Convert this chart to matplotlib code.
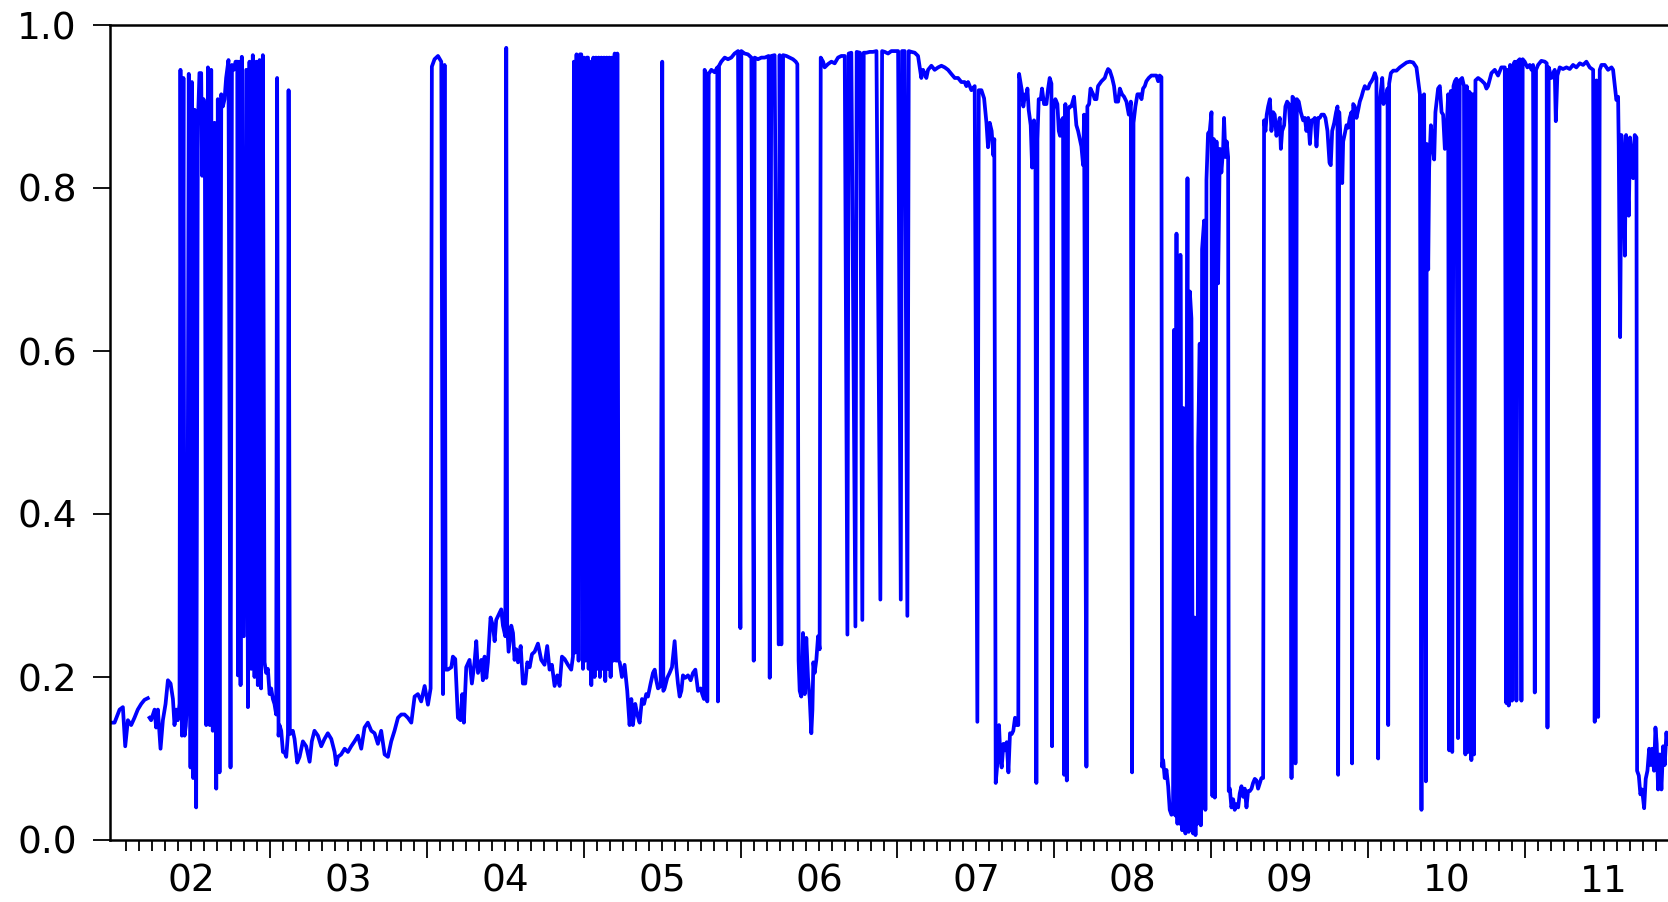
import numpy as np
import matplotlib
matplotlib.use("Agg")
import matplotlib.pyplot as plt

plt.rcParams['font.family'] = ['DejaVu Sans']

# regime probability (x = decimal year)
t_a = [2001.989, 2002.011, 2002.043, 2002.064, 2002.079, 2002.096, 2002.117, 2002.138, 2002.159, 2002.181,
       2002.202, 2002.223, 2002.228, 2002.234, 2002.244, 2002.266, 2002.276, 2002.287, 2002.304, 2002.319,
       2002.336, 2002.351, 2002.368, 2002.383, 2002.393, 2002.404, 2002.414, 2002.425,
       2002.431, 2002.440, 2002.450, 2002.457, 2002.465, 2002.474, 2002.484, 2002.495, 2002.504, 2002.512,
       2002.521, 2002.531, 2002.542, 2002.552, 2002.563, 2002.569, 2002.578, 2002.586, 2002.595, 2002.606,
       2002.618, 2002.627, 2002.637, 2002.648, 2002.659, 2002.669, 2002.680, 2002.691, 2002.701, 2002.712,
       2002.722, 2002.737, 2002.750, 2002.759, 2002.771, 2002.782, 2002.793, 2002.797, 2002.805, 2002.814,
       2002.822, 2002.835, 2002.850, 2002.861, 2002.871, 2002.882, 2002.892, 2002.903, 2002.914, 2002.924,
       2002.935, 2002.945, 2002.956, 2002.967, 2002.977, 2002.988, 2002.999, 2003.009, 2003.020, 2003.030,
       2003.041, 2003.047, 2003.056, 2003.062, 2003.073, 2003.084, 2003.094, 2003.105, 2003.116, 2003.120,
       2003.128, 2003.137, 2003.147, 2003.158, 2003.175, 2003.190, 2003.211, 2003.232, 2003.254, 2003.268,
       2003.285, 2003.307, 2003.328, 2003.349, 2003.370, 2003.392, 2003.413, 2003.424, 2003.434]
p_a = [.144, .144, .160, .163, .115, .147, .141, .150, .160, .167,
       .172, .174, np.nan, .150, .147, .160, .138, .160, .112, .147,
       .167, .196, .192, .173, .141, .160, .147, .167,
       .945, .128, .935, .128, .140, .173, .940, .089, .930, .076,
       .896, .040, .877, .941, .941, .815, .909, .890, .141, .948,
       .141, .945, .134, .880, .063, .909, .083, .915, .900, .909,
       .935, .957, .089, .951, .945, .955, .955, .202, .955, .190,
       .961, .250, .945, .163, .955, .210, .963, .200, .955, .190,
       .957, .186, .963, .218, .205, .210, .179, .186, .173, .167,
       .154, .935, .128, .141, .134, .108, .108, .102, .130, .920,
       .130, .131, .134, .124, .095, .102, .121, .115, .096, .121,
       .134, .128, .115, .124, .131, .124, .108, .092, .102]

t_b = [2003.455, 2003.477, 2003.498, 2003.519, 2003.540, 2003.562, 2003.583, 2003.604, 2003.625, 2003.647,
       2003.668, 2003.689, 2003.710, 2003.732, 2003.753, 2003.774, 2003.795, 2003.817, 2003.838, 2003.859,
       2003.880, 2003.902, 2003.923, 2003.944, 2003.965, 2003.987, 2004.008, 2004.025, 2004.033, 2004.050,
       2004.072, 2004.093, 2004.104, 2004.114, 2004.121, 2004.135, 2004.157, 2004.167, 2004.182, 2004.199,
       2004.216, 2004.227, 2004.237, 2004.252, 2004.273, 2004.288, 2004.305, 2004.316, 2004.327, 2004.348,
       2004.358, 2004.369, 2004.380, 2004.390, 2004.407, 2004.422, 2004.433, 2004.443, 2004.458, 2004.475,
       2004.486, 2004.501, 2004.507, 2004.513, 2004.522, 2004.539, 2004.550, 2004.560, 2004.571, 2004.582,
       2004.599, 2004.613, 2004.628, 2004.641, 2004.656, 2004.671, 2004.688, 2004.709, 2004.730, 2004.751,
       2004.768, 2004.783, 2004.798, 2004.815, 2004.832, 2004.847, 2004.862, 2004.879]
p_b = [.105, .112, .108, .115, .121, .128, .112, .138, .144, .134,
       .131, .118, .134, .105, .102, .121, .134, .150, .154, .154,
       .150, .144, .176, .179, .170, .189, .166, .186, .949, .958,
       .962, .955, .179, .951, .209, .209, .212, .225, .222, .150,
       .147, .179, .144, .212, .221, .192, .218, .244, .205, .221,
       .196, .225, .199, .218, .273, .263, .244, .270, .276, .283,
       .263, .250, .972, .263, .231, .263, .254, .221, .234, .218,
       .238, .192, .192, .218, .212, .228, .231, .241, .221, .215,
       .238, .209, .215, .189, .202, .189, .225, .222]

t_c = [2004.900, 2004.921, 2004.932, 2004.938, 2004.947, 2004.955, 2004.968, 2004.977, 2004.985, 2004.996,
       2005.002, 2005.011, 2005.021, 2005.028, 2005.032, 2005.040, 2005.049, 2005.062, 2005.070, 2005.079,
       2005.087, 2005.096, 2005.104, 2005.113, 2005.121, 2005.130, 2005.138, 2005.147, 2005.155, 2005.164,
       2005.172, 2005.181, 2005.189, 2005.198, 2005.208, 2005.215, 2005.223, 2005.230, 2005.244, 2005.261,
       2005.278, 2005.293, 2005.304, 2005.314, 2005.329, 2005.342, 2005.357, 2005.372, 2005.385, 2005.399,
       2005.410, 2005.427, 2005.442, 2005.453, 2005.463, 2005.474, 2005.491, 2005.501, 2005.508, 2005.516,
       2005.533, 2005.548, 2005.563, 2005.580, 2005.591, 2005.601, 2005.612, 2005.623, 2005.633, 2005.648,
       2005.665, 2005.682, 2005.697, 2005.712, 2005.729, 2005.746, 2005.756, 2005.767, 2005.771, 2005.782,
       2005.788, 2005.797, 2005.814, 2005.835, 2005.852, 2005.856, 2005.863, 2005.877, 2005.899, 2005.920,
       2005.941, 2005.962, 2005.984, 2005.999, 2006.005, 2006.026, 2006.047, 2006.069, 2006.084, 2006.090,
       2006.111, 2006.133, 2006.154, 2006.179, 2006.186, 2006.196, 2006.217, 2006.243, 2006.249, 2006.260,
       2006.271, 2006.292, 2006.313, 2006.334]
p_c = [.215, .209, .225, .955, .230, .964, .220, .964, .964, .210,
       .960, .220, .960, .960, .210, .955, .190, .960, .200, .960,
       .210, .960, .200, .960, .210, .960, .195, .960, .210, .960,
       .200, .960, .220, .965, .220, .965, .220, .218, .200, .215,
       .183, .141, .173, .141, .167, .154, .144, .173, .167, .179,
       .176, .192, .205, .209, .196, .186, .189, .955, .183, .186,
       .199, .205, .212, .244, .212, .192, .176, .183, .202, .199,
       .202, .196, .205, .209, .183, .186, .179, .173, .945, .940,
       .170, .940, .945, .942, .948, .170, .950, .955, .960, .958,
       .960, .965, .968, .260, .968, .965, .964, .960, .220, .960,
       .958, .960, .960, .962, .199, .962, .963, .240, .963, .240,
       .963, .962, .960, .958]

t_d = [2006.352, 2006.362, 2006.370, 2006.377, 2006.387, 2006.398, 2006.409, 2006.419, 2006.430, 2006.441,
       2006.451, 2006.458, 2006.464, 2006.472, 2006.483, 2006.494, 2006.504, 2006.511, 2006.526, 2006.536,
       2006.547, 2006.557, 2006.579, 2006.600, 2006.621, 2006.642, 2006.664, 2006.681, 2006.689, 2006.706,
       2006.732, 2006.740, 2006.761, 2006.776, 2006.785, 2006.802, 2006.823, 2006.844, 2006.866, 2006.891,
       2006.902, 2006.919, 2006.940, 2006.961, 2006.982, 2007.004, 2007.021, 2007.029, 2007.046, 2007.063,
       2007.072, 2007.089, 2007.110, 2007.131, 2007.142, 2007.152, 2007.163, 2007.174, 2007.184, 2007.195,
       2007.216, 2007.237, 2007.259, 2007.280, 2007.301, 2007.322, 2007.343, 2007.365, 2007.386, 2007.407,
       2007.428, 2007.439, 2007.450, 2007.471, 2007.492, 2007.509, 2007.518, 2007.535, 2007.552, 2007.567,
       2007.577, 2007.588, 2007.600, 2007.611, 2007.617, 2007.626, 2007.639, 2007.647, 2007.656, 2007.664,
       2007.675, 2007.685, 2007.696, 2007.707, 2007.717, 2007.728, 2007.738, 2007.749, 2007.760, 2007.770,
       2007.775, 2007.792, 2007.802, 2007.813, 2007.823]
p_d = [.955, .952, .220, .183, .176, .254, .179, .248, .199, .173,
       .131, .160, .218, .205, .221, .250, .234, .960, .955, .948,
       .950, .952, .955, .953, .960, .962, .962, .252, .965, .966,
       .262, .967, .966, .270, .966, .966, .967, .967, .968, .295,
       .968, .967, .965, .968, .968, .968, .295, .968, .968, .275,
       .968, .967, .966, .962, .948, .935, .945, .940, .935, .945,
       .950, .945, .948, .950, .948, .945, .940, .935, .935, .930,
       .930, .925, .930, .920, .925, .145, .920, .920, .910, .880,
       .850, .880, .870, .840, .860, .070, .100, .141, .100, .089,
       .118, .110, .120, .083, .131, .130, .134, .150, .141, .141,
       .940, .920, .900, .915, .910]

t_e = [2007.828, 2007.836, 2007.849, 2007.858, 2007.870, 2007.879, 2007.885, 2007.892, 2007.900, 2007.913,
       2007.921, 2007.934, 2007.949, 2007.960, 2007.970, 2007.981, 2007.985, 2007.994, 2008.006, 2008.019,
       2008.028, 2008.036, 2008.045, 2008.055, 2008.062, 2008.070, 2008.079, 2008.087, 2008.098, 2008.108,
       2008.125, 2008.140, 2008.151, 2008.162, 2008.172, 2008.183, 2008.189, 2008.204, 2008.210, 2008.221,
       2008.230, 2008.247, 2008.257, 2008.268, 2008.278, 2008.300, 2008.321, 2008.331, 2008.342, 2008.353,
       2008.368, 2008.380, 2008.391, 2008.406, 2008.417, 2008.431, 2008.444, 2008.459, 2008.474, 2008.487,
       2008.495, 2008.504, 2008.516, 2008.529, 2008.544, 2008.555, 2008.565, 2008.576, 2008.586, 2008.601,
       2008.618, 2008.640, 2008.650, 2008.661, 2008.671, 2008.682, 2008.686, 2008.693, 2008.703, 2008.714,
       2008.725, 2008.735, 2008.746, 2008.756, 2008.763, 2008.771, 2008.778, 2008.784, 2008.793, 2008.799,
       2008.803, 2008.814, 2008.822, 2008.835, 2008.848, 2008.856, 2008.863, 2008.873, 2008.884, 2008.890,
       2008.899, 2008.905, 2008.911, 2008.916, 2008.926, 2008.933, 2008.941, 2008.954, 2008.962, 2008.969,
       2008.979, 2008.990, 2009.001, 2009.007, 2009.016, 2009.022, 2009.033, 2009.043, 2009.054, 2009.064,
       2009.075, 2009.081, 2009.090, 2009.098, 2009.107, 2009.111, 2009.118, 2009.128, 2009.139, 2009.149,
       2009.160, 2009.171, 2009.181, 2009.192, 2009.203, 2009.213, 2009.224, 2009.234, 2009.245, 2009.256,
       2009.266, 2009.277]
p_e = [.922, .896, .877, .825, .883, .860, .070, .860, .909, .909,
       .922, .903, .903, .922, .935, .928, .115, .896, .909, .903,
       .870, .864, .883, .886, .080, .903, .073, .896, .900, .900,
       .912, .877, .870, .860, .851, .828, .890, .090, .900, .903,
       .922, .915, .909, .909, .925, .931, .935, .941, .946, .944,
       .935, .925, .906, .906, .922, .915, .912, .906, .890, .906,
       .083, .880, .900, .915, .915, .909, .922, .925, .931, .935,
       .938, .938, .938, .931, .938, .936, .090, .098, .076, .086,
       .066, .037, .031, .034, .626, .030, .744, .020, .460, .020,
       .718, .012, .530, .008, .812, .010, .673, .640, .008, .273,
       .006, .273, .020, .483, .609, .018, .725, .760, .037, .810,
       .867, .870, .893, .054, .860, .052, .857, .683, .848, .819,
       .848, .886, .838, .857, .838, .060, .063, .040, .050, .037,
       .044, .040, .057, .066, .053, .063, .040, .060, .060, .063,
       .070, .075]

t_f = [2009.288, 2009.298, 2009.309, 2009.319, 2009.330, 2009.336, 2009.345, 2009.353, 2009.362, 2009.373,
       2009.383, 2009.394, 2009.404, 2009.415, 2009.426, 2009.436, 2009.443, 2009.451, 2009.464, 2009.472,
       2009.483, 2009.494, 2009.502, 2009.511, 2009.517, 2009.528, 2009.536, 2009.545, 2009.557, 2009.570,
       2009.585, 2009.596, 2009.606, 2009.617, 2009.628, 2009.638, 2009.649, 2009.659, 2009.670, 2009.681,
       2009.691, 2009.702, 2009.717, 2009.727, 2009.740, 2009.753, 2009.761, 2009.770, 2009.783, 2009.795,
       2009.804, 2009.808, 2009.815, 2009.825, 2009.834, 2009.840, 2009.851, 2009.861, 2009.872, 2009.882,
       2009.893, 2009.897, 2009.904, 2009.914, 2009.925, 2009.936, 2009.946, 2009.957, 2009.967, 2009.978,
       2009.989, 2009.999, 2010.010, 2010.021, 2010.031, 2010.042, 2010.052, 2010.063, 2010.072, 2010.080,
       2010.089, 2010.097, 2010.110, 2010.123, 2010.127, 2010.133, 2010.144, 2010.159, 2010.180, 2010.201,
       2010.222, 2010.244, 2010.265, 2010.286, 2010.307, 2010.318, 2010.329, 2010.339, 2010.346, 2010.356,
       2010.367, 2010.373, 2010.382, 2010.388, 2010.399, 2010.407, 2010.420, 2010.428, 2010.437, 2010.445,
       2010.456, 2010.467, 2010.477, 2010.488, 2010.499, 2010.509, 2010.516, 2010.526, 2010.535, 2010.543,
       2010.552]
p_f = [.073, .063, .070, .076, .076, .883, .870, .890, .900, .909,
       .870, .893, .890, .864, .877, .886, .848, .870, .877, .900,
       .906, .903, .877, .076, .912, .909, .094, .909, .906, .893,
       .883, .886, .870, .886, .854, .883, .883, .886, .851, .886,
       .886, .890, .890, .886, .870, .831, .828, .870, .880, .893,
       .900, .080, .893, .851, .806, .857, .867, .877, .874, .886,
       .893, .094, .903, .900, .886, .896, .906, .912, .919, .925,
       .922, .922, .928, .931, .935, .941, .935, .100, .903, .919,
       .935, .903, .909, .922, .141, .928, .941, .944, .944, .948,
       .951, .954, .955, .954, .948, .932, .915, .037, .912, .915,
       .072, .854, .700, .825, .877, .857, .835, .893, .909, .922,
       .925, .893, .890, .848, .870, .915, .110, .919, .108, .925,
       .931]

t_g = [2010.562, 2010.572, 2010.583, 2010.598, 2010.610, 2010.619, 2010.627, 2010.636, 2010.644, 2010.653,
       2010.657, 2010.666, 2010.674, 2010.683, 2010.700, 2010.721, 2010.742, 2010.753, 2010.763, 2010.785,
       2010.806, 2010.827, 2010.848, 2010.870, 2010.880, 2010.887, 2010.895, 2010.904, 2010.916, 2010.925,
       2010.933, 2010.944, 2010.950, 2010.965, 2010.976, 2010.984, 2010.997, 2011.014, 2011.029, 2011.040,
       2011.050, 2011.061, 2011.069, 2011.082, 2011.103, 2011.125, 2011.137, 2011.142, 2011.150, 2011.167,
       2011.188, 2011.195, 2011.205, 2011.220, 2011.241, 2011.263, 2011.284, 2011.305, 2011.326, 2011.348,
       2011.369, 2011.390, 2011.411, 2011.433, 2011.443, 2011.454, 2011.465, 2011.475, 2011.486, 2011.507,
       2011.528, 2011.550, 2011.560, 2011.571, 2011.581, 2011.592, 2011.596, 2011.605, 2011.613, 2011.624,
       2011.635, 2011.643, 2011.651, 2011.660, 2011.668, 2011.677, 2011.688, 2011.698, 2011.709, 2011.713,
       2011.724, 2011.734, 2011.745, 2011.758, 2011.768, 2011.779, 2011.790, 2011.800, 2011.809, 2011.821,
       2011.830, 2011.838, 2011.847, 2011.858, 2011.868, 2011.879, 2011.889, 2011.900, 2011.906]
p_g = [.934, .125, .932, .935, .925, .105, .925, .108, .918, .915,
       .098, .915, .105, .932, .935, .932, .928, .922, .925, .941,
       .945, .938, .948, .948, .168, .945, .165, .951, .171, .951,
       .955, .171, .955, .958, .171, .958, .955, .948, .951, .945,
       .951, .181, .945, .951, .956, .955, .953, .138, .948, .935,
       .945, .882, .938, .948, .946, .948, .946, .951, .948, .953,
       .951, .955, .948, .945, .145, .932, .151, .945, .951, .951,
       .945, .948, .945, .925, .908, .912, .852, .617, .865, .832,
       .717, .865, .812, .766, .862, .842, .812, .865, .862, .085,
       .079, .056, .062, .039, .075, .085, .112, .092, .112, .085,
       .138, .118, .062, .105, .062, .115, .092, .132, .118]

yr_labels = ['02', '03', '04', '05', '06', '07', '08', '09', '10', '11']

t = np.concatenate([t_a, t_b, t_c, t_d, t_e, t_f, t_g])
p = np.concatenate([p_a, p_b, p_c, p_d, p_e, p_f, p_g])

W, H = 1668, 902
fig = plt.figure(figsize=(W / 100, H / 100), dpi=100)
ax = fig.add_axes([110 / W, 1 - 840 / H, 1 - 110 / W, 815 / H])

ax.plot(t, p, color='#0000ff', lw=2.7, solid_joinstyle='round')

ax.set_xlim(2001.982, 2011.91)
ax.set_ylim(0, 1)

ax.spines['right'].set_visible(False)
for s in ['left', 'top', 'bottom']:
    ax.spines[s].set_linewidth(1.8)

ax.set_yticks(np.arange(0, 1.01, 0.2))
ax.set_yticklabels(['0.0', '0.2', '0.4', '0.6', '0.8', '1.0'])
ax.tick_params(axis='y', length=12, width=1.3, labelsize=27, pad=12)

# year boundaries long, months short, labels centred on each year
years = np.arange(2003, 2012)
months = [2002 + k / 12 for k in range(1, 120) if k % 12 and 2002 + k / 12 < 2011.91]
ax.set_xticks(years)
ax.set_xticklabels([])
ax.set_xticks(months, minor=True)
ax.tick_params(axis='x', which='major', length=13, width=1.3)
ax.tick_params(axis='x', which='minor', length=8, width=1.3)

sec = ax.secondary_xaxis('bottom')
sec.set_xticks(np.arange(2002, 2012) + 0.5)
sec.set_xticklabels(yr_labels)
sec.tick_params(length=0, labelsize=27, pad=17)
sec.spines['bottom'].set_visible(False)

fig.savefig('out.png', dpi=100)
